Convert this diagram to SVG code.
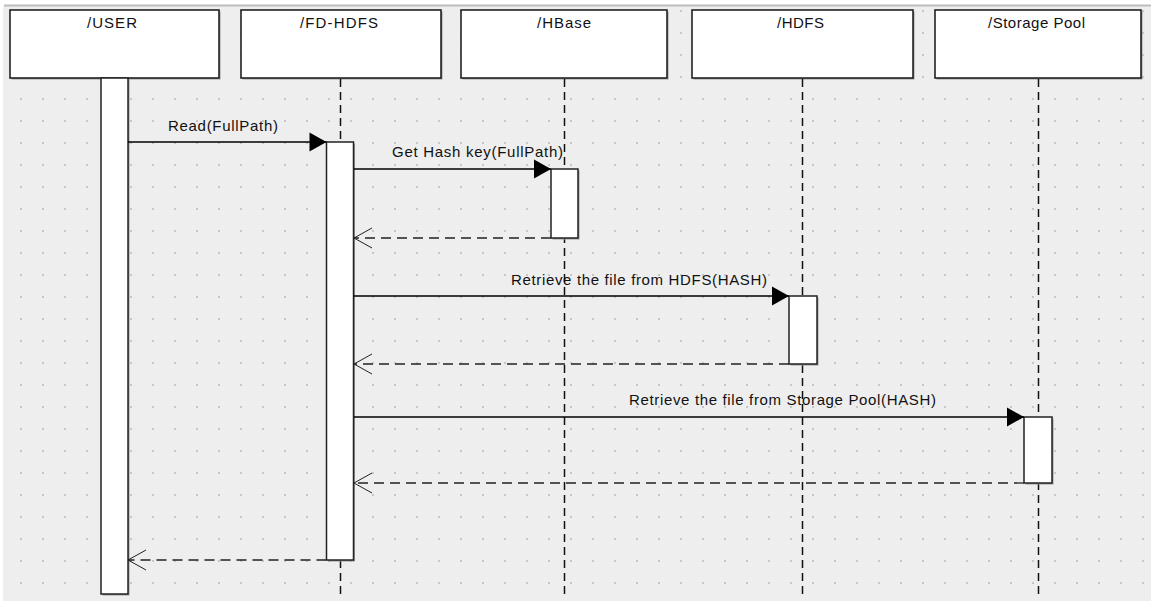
<svg xmlns="http://www.w3.org/2000/svg" width="1151" height="601" viewBox="0 0 1151 601">
  <defs>
    <pattern id="dots" x="0" y="0" width="22" height="22" patternUnits="userSpaceOnUse">
      <rect x="20" y="10" width="2" height="2" fill="#c6c6c6"/>
    </pattern>
    <marker id="filled" markerUnits="userSpaceOnUse" markerWidth="18" markerHeight="20" refX="17" refY="10" orient="auto" overflow="visible">
      <path d="M0,0.5 L17,10 L0,19.5 Z" fill="#000"/>
    </marker>
    <marker id="open" markerUnits="userSpaceOnUse" markerWidth="20" markerHeight="22" refX="18" refY="10" orient="auto" overflow="visible">
      <path d="M0,0 L18,10 L0,20" fill="none" stroke="#222" stroke-width="1"/>
    </marker>
    <style>
      .head { fill: #fff; stroke: #222; stroke-width: 1.6; }
      .shadow { fill: #9a9a9a; }
      .act { fill: #fff; stroke: #222; stroke-width: 1.5; }
      .life { stroke: #111; stroke-width: 1.5; stroke-dasharray: 8 5; fill: none; }
      .msg { stroke: #000; stroke-width: 1.3; fill: none; marker-end: url(#filled); }
      .ret { stroke: #222; stroke-width: 1.3; fill: none; stroke-dasharray: 10 6; marker-end: url(#open); }
      text { font-family: "Liberation Sans", Arial, sans-serif; font-size: 15px; fill: #111; }
    </style>
  </defs>

  <!-- background -->
  <rect x="0" y="0" width="1151" height="601" fill="#fff"/>
  <rect x="3" y="6" width="1148" height="595" fill="#eeeeee"/>
  <rect x="3" y="6" width="1148" height="595" fill="url(#dots)"/>
  <line x1="4" y1="5.5" x2="1151" y2="5.5" stroke="#bdbdbd" stroke-width="2"/>

  <g id="user">
    <rect class="shadow" x="11.5" y="11.5" width="209" height="68"/>
    <rect class="head" x="10" y="10" width="209" height="68"/>
    <text x="87" y="28" textLength="50" lengthAdjust="spacing">/USER</text>
    <rect class="shadow" x="102.5" y="79.5" width="27" height="516"/>
    <rect class="act" x="101" y="78" width="27" height="516"/>
  </g>

  <g id="fd-hdfs">
    <rect class="shadow" x="242.5" y="11.5" width="200" height="68"/>
    <rect class="head" x="241" y="10" width="200" height="68"/>
    <text x="300" y="28" textLength="78" lengthAdjust="spacing">/FD-HDFS</text>
    <line class="life" x1="340.5" y1="79" x2="340.5" y2="598"/>
    <rect class="shadow" x="328" y="143.5" width="27" height="418"/>
    <rect class="act" x="326.5" y="142" width="27" height="418"/>
  </g>

  <g id="hbase">
    <rect class="shadow" x="462.5" y="11.5" width="206" height="68"/>
    <rect class="head" x="461" y="10" width="206" height="68"/>
    <text x="537" y="28" textLength="54" lengthAdjust="spacing">/HBase</text>
    <line class="life" x1="564.5" y1="79" x2="564.5" y2="598"/>
    <rect class="shadow" x="552.5" y="170.5" width="27" height="69"/>
    <rect class="act" x="551" y="169" width="27" height="69"/>
  </g>

  <g id="hdfs">
    <rect class="shadow" x="693.5" y="11.5" width="221" height="68"/>
    <rect class="head" x="692" y="10" width="221" height="68"/>
    <text x="777" y="28" textLength="47" lengthAdjust="spacing">/HDFS</text>
    <line class="life" x1="802.5" y1="79" x2="802.5" y2="598"/>
    <rect class="shadow" x="790.5" y="297.5" width="28" height="68"/>
    <rect class="act" x="789" y="296" width="28" height="68"/>
  </g>

  <g id="storage-pool">
    <rect class="shadow" x="936.5" y="11.5" width="206" height="68"/>
    <rect class="head" x="935" y="10" width="206" height="68"/>
    <text x="988" y="28" textLength="97" lengthAdjust="spacing">/Storage Pool</text>
    <line class="life" x1="1038.5" y1="79" x2="1038.5" y2="598"/>
    <rect class="shadow" x="1025.5" y="418.5" width="28" height="66"/>
    <rect class="act" x="1024" y="417" width="28" height="66"/>
  </g>

  <g id="connectors">
    <line class="msg" x1="128" y1="142" x2="326.5" y2="142"/>
    <text x="168" y="131" textLength="110" lengthAdjust="spacing">Read(FullPath)</text>

    <line class="msg" x1="354" y1="169" x2="551" y2="169"/>
    <text x="392" y="157" textLength="171" lengthAdjust="spacing">Get Hash key(FullPath)</text>
    <line class="ret" x1="551" y1="238" x2="354" y2="238"/>

    <line class="msg" x1="354" y1="296" x2="789" y2="296"/>
    <text x="511" y="285" textLength="256" lengthAdjust="spacing">Retrieve the file from HDFS(HASH)</text>
    <line class="ret" x1="789" y1="364" x2="354" y2="364"/>

    <line class="msg" x1="354" y1="417" x2="1024" y2="417"/>
    <text x="629" y="405" textLength="307" lengthAdjust="spacing">Retrieve the file from Storage Pool(HASH)</text>
    <line class="ret" x1="1024" y1="483" x2="354" y2="483"/>

    <line class="ret" x1="326.5" y1="560" x2="128" y2="560"/>
  </g>
</svg>
